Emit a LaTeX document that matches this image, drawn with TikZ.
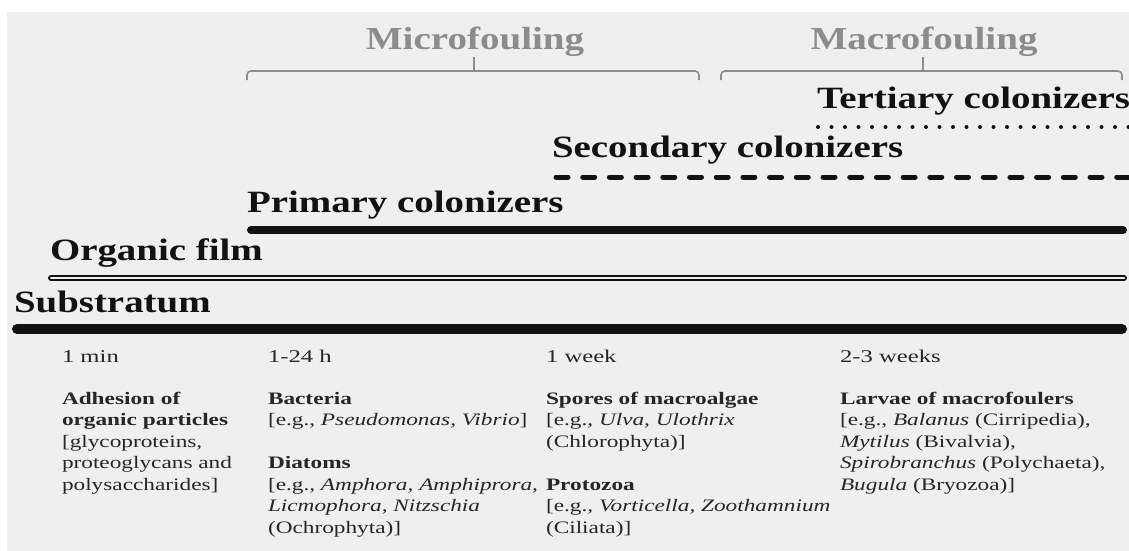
\documentclass[tikz,border=0pt]{standalone}
\usepackage{fontspec}
\setmainfont{Liberation Serif}
\usepackage{graphicx}
\definecolor{bg}{HTML}{EFEFEF}
\definecolor{hd}{HTML}{8C8C8C}
\definecolor{ink}{HTML}{121212}
\definecolor{bodyink}{HTML}{262626}
\newcommand{\hsh}[1]{\scalebox{1.22}[1]{#1}}
\newcommand{\hsb}[1]{\scalebox{1.255}[1]{#1}}
\newcommand{\hsm}[1]{\scalebox{1.33}[1]{#1}}
\newcommand{\hst}[1]{\scalebox{1.37}[1]{#1}}
\newcommand{\bigfont}{\fontsize{31}{36}\selectfont\bfseries}
\newcommand{\headfont}{\fontsize{32}{38}\selectfont\bfseries}
\newcommand{\bodyfont}{\fontsize{17.5}{21.5}\selectfont}
\newcommand{\timefont}{\fontsize{18}{22}\selectfont}
\newcommand{\blk}[1]{\hsm{\bodyfont\begin{tabular}[t]{@{}l@{}}#1\end{tabular}}}
\tikzset{
  lbl/.style={inner sep=0pt, outer sep=0pt, anchor=base west, text=ink},
  body/.style={inner sep=0pt, outer sep=0pt, anchor=base west, text=bodyink},
  head/.style={inner sep=0pt, outer sep=0pt, anchor=base, text=hd},
  brace/.style={draw=hd, line width=1.6pt, rounded corners=4pt},
  tier/.style={draw=ink, line cap=round},
}
\begin{document}
\begin{tikzpicture}[x=1pt,y=-1pt]
\useasboundingbox (0,0) rectangle (1129,551);
\fill[white] (0,0) rectangle (1129,551);
\fill[bg] (7,12) rectangle (1129,551);

% headings and braces
\node[head] (micro) at (475,49) {\hsh{\headfont Microfouling}};
\node[head] (macro) at (924,49) {\hsh{\headfont Macrofouling}};
\draw[brace] (247,80) -- (247,71) -- (699,71) -- (699,80);
\draw[draw=hd, line width=1.6pt] (474,71) -- (474,57);
\draw[brace] (721,80) -- (721,71) -- (1122,71) -- (1122,80);
\draw[draw=hd, line width=1.6pt] (923,71) -- (923,57);

% tiers
\node[lbl] (tert) at (817,108) {\hsb{\bigfont Tertiary colonizers}};
\draw[tier, line width=4pt, dash pattern=on 0pt off 13.5pt] (818,127) -- (1129,127);
\node[lbl] (sec) at (552,157) {\hsb{\bigfont Secondary colonizers}};
\draw[tier, line width=5pt, dash pattern=on 12pt off 14.7pt] (556,177) -- (1129,177);
\node[lbl] (prim) at (247,212) {\hsb{\bigfont Primary colonizers}};
\draw[tier, line width=8pt] (251,230) -- (1123,230);
\node[lbl] (org) at (50,260) {\hsb{\bigfont Organic film}};
\draw[tier, line width=2pt, double=bg, double distance=2pt] (51,278) -- (1124,278);
\node[lbl] (sub) at (14,312) {\hsb{\bigfont Substratum}};
\draw[tier, line width=10pt] (17,329) -- (1122,329);

% time labels
\node[body] (t1) at (62,362) {\hst{\timefont 1 min}};
\node[body] (t2) at (268,362) {\hst{\timefont 1-24 h}};
\node[body] (t3) at (546,362) {\hst{\timefont 1 week}};
\node[body] (t4) at (840,362) {\hst{\timefont 2-3 weeks}};

% descriptions
\node[body] (d1) at (62,404) {\blk{\textbf{Adhesion of}\\ \textbf{organic particles}\\ {[}glycoproteins,\\ proteoglycans and\\ polysaccharides{]}}};
\node[body] (d2) at (268,404) {\blk{\textbf{Bacteria}\\ {[}e.g., \textit{Pseudomonas, Vibrio}{]}\\ \\ \textbf{Diatoms}\\ {[}e.g., \textit{Amphora, Amphiprora,}\\ \textit{Licmophora, Nitzschia}\\ (Ochrophyta){]}}};
\node[body] (d3) at (546,404) {\blk{\textbf{Spores of macroalgae}\\ {[}e.g., \textit{Ulva, Ulothrix}\\ (Chlorophyta){]}\\ \\ \textbf{Protozoa}\\ {[}e.g., \textit{Vorticella, Zoothamnium}\\ (Ciliata){]}}};
\node[body] (d4) at (840,404) {\blk{\textbf{Larvae of macrofoulers}\\ {[}e.g., \textit{Balanus} (Cirripedia),\\ \textit{Mytilus} (Bivalvia),\\ \textit{Spirobranchus} (Polychaeta),\\ \textit{Bugula} (Bryozoa){]}}};
\end{tikzpicture}
\end{document}
